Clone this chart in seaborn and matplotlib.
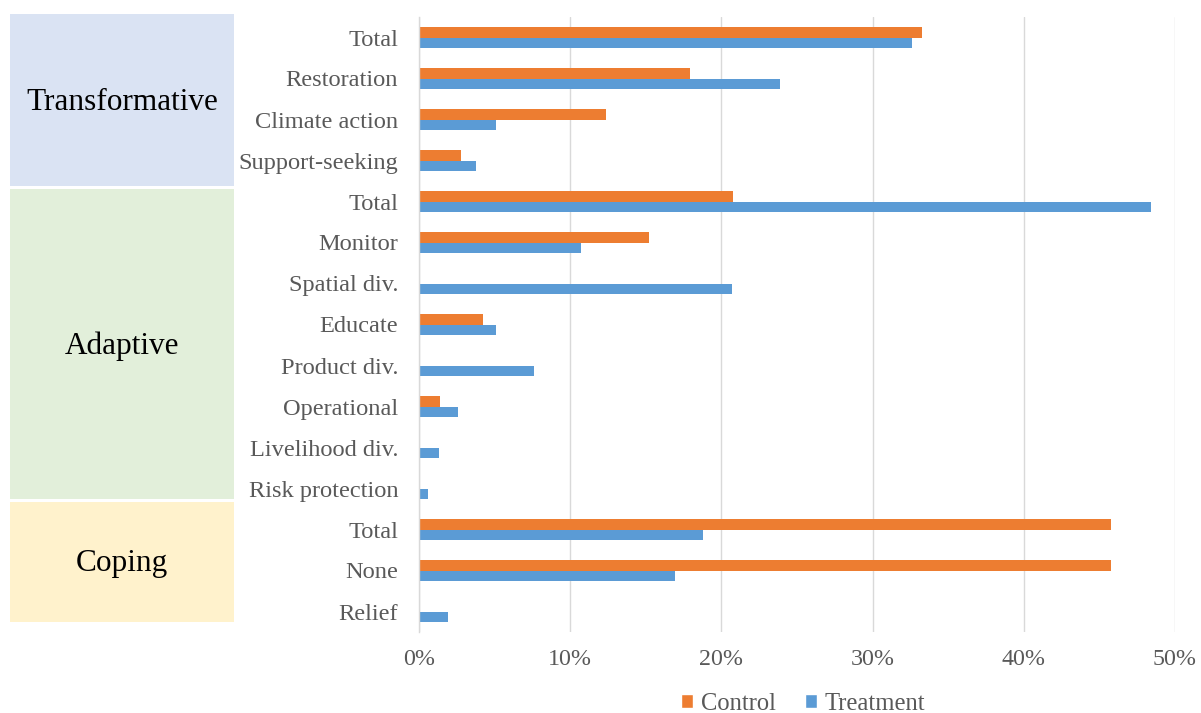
import matplotlib
matplotlib.use("Agg")
import matplotlib.pyplot as plt
from matplotlib.patches import Rectangle
from matplotlib.ticker import PercentFormatter, MultipleLocator
import seaborn as sns
import pandas as pd

# Strategy groups and their sub-categories (top to bottom)
groups = ["Transformative"] * 4 + ["Adaptive"] * 8 + ["Coping"] * 3
categories = [
    "Total", "Restoration", "Climate action", "Support-seeking",
    "Total", "Monitor", "Spatial div.", "Educate", "Product div.",
    "Operational", "Livelihood div.", "Risk protection",
    "Total", "None", "Relief",
]
control = [0.333, 0.179, 0.124, 0.028,
           0.208, 0.152, 0.0, 0.042, 0.0, 0.014, 0.0, 0.0,
           0.458, 0.458, 0.0]
treatment = [0.326, 0.239, 0.051, 0.038,
             0.484, 0.107, 0.207, 0.051, 0.076, 0.026, 0.013, 0.006,
             0.188, 0.169, 0.019]
series = ["Control", "Treatment"]
colors = {"Control": "#ED7D31", "Treatment": "#5B9BD5"}
group_colors = {"Transformative": "#DAE3F3", "Adaptive": "#E2EFDA", "Coping": "#FFF2CC"}

keys = [f"{g}|{c}" for g, c in zip(groups, categories)]
df = pd.DataFrame({
    "key": keys * 2,
    "series": ["Control"] * len(keys) + ["Treatment"] * len(keys),
    "value": control + treatment,
})

sns.set_theme(style="white")
plt.rcParams["font.family"] = ["Liberation Serif", "DejaVu Serif"]

W, H = 1201, 713
fig = plt.figure(figsize=(W / 100, H / 100), dpi=100)
ax = fig.add_axes([419 / W, 1 - 632 / H, (1175 - 419) / W, (632 - 17) / H])

sns.barplot(data=df, y="key", x="value", hue="series", order=keys,
            hue_order=series, palette=colors, orient="h", width=0.52,
            gap=0, saturation=1, linewidth=0, ax=ax, legend=False)

ax.set_xlim(0, 0.5)
ax.set_ylim(len(keys) - 0.5, -0.5)
ax.xaxis.set_major_locator(MultipleLocator(0.1))
ax.xaxis.set_major_formatter(PercentFormatter(1.0, decimals=0))
ax.set_yticks(range(len(keys)))
ax.set_yticklabels(categories)
ax.set_xlabel("")
ax.set_ylabel("")
ax.grid(axis="x", color="#D9D9D9", linewidth=1)
ax.set_axisbelow(True)
for s in ["top", "right", "bottom"]:
    ax.spines[s].set_visible(False)
ax.spines["left"].set_color("#D9D9D9")
ax.spines["left"].set_linewidth(1)
ax.tick_params(axis="y", length=0, pad=15, labelsize=17.6, labelcolor="#595959")
ax.tick_params(axis="x", length=0, pad=12, labelsize=17.3, labelcolor="#595959")

# Coloured group boxes on the left
boxes = [("Transformative", 14, 186), ("Adaptive", 189, 499), ("Coping", 502, 622)]
for name, top, bottom in boxes:
    fig.patches.append(Rectangle((10 / W, 1 - bottom / H), (234 - 10) / W, (bottom - top) / H,
                                 transform=fig.transFigure, facecolor=group_colors[name],
                                 edgecolor="none", zorder=0))
    fig.text(122 / W, 1 - (top + bottom + 4) / 2 / H, name, ha="center", va="center",
             fontsize=22.5, color="black")

handles = [Rectangle((0, 0), 1, 1, facecolor=colors[s]) for s in series]
fig.legend(handles, series, loc="center", bbox_to_anchor=(803 / W, 1 - 704 / H),
           ncol=2, frameon=False, fontsize=17.7, handlelength=0.5, handleheight=0.5,
           handletextpad=0.3, columnspacing=1.2, labelcolor="#595959")

fig.savefig("out.png", dpi=100)
